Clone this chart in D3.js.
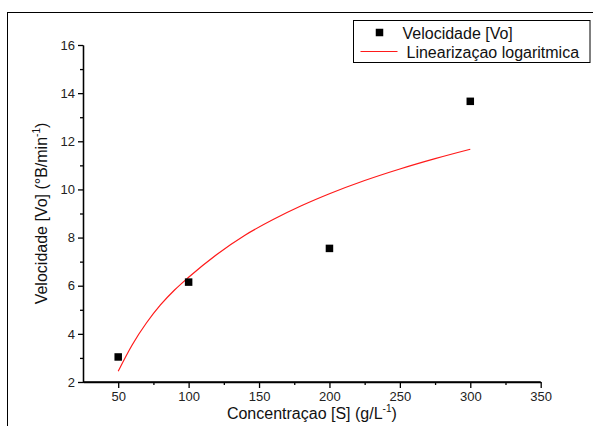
<!DOCTYPE html>
<html>
<head>
<meta charset="utf-8">
<script src="https://cdn.jsdelivr.net/npm/d3@7"></script>
<style>
  html, body { margin: 0; padding: 0; background: #fff; }
  svg { display: block; font-family: "Liberation Sans", Arial, sans-serif; }
</style>
</head>
<body>
<svg id="chart" width="593" height="426"></svg>
<script>
// Measured initial velocity per substrate concentration
const concentrations = [50, 100, 200, 300];
const velocities = [3.04, 6.15, 7.55, 13.66];

// Logarithmic fit curve, sampled along concentration
const fitConc = [50, 60, 70, 80, 90, 100, 120, 140, 160, 180, 200, 225, 250, 275, 300];
const fitVel  = [2.45, 3.55, 4.45, 5.2, 5.82, 6.35, 7.3, 8.1, 8.75, 9.32, 9.82, 10.37, 10.85, 11.28, 11.67];

// Axis ticks
const xMajorTicks = [50, 100, 150, 200, 250, 300, 350];
const xMinorTicks = [75, 125, 175, 225, 275, 325];
const yMajorTicks = [2, 4, 6, 8, 10, 12, 14, 16];
const yMinorTicks = [3, 5, 7, 9, 11, 13, 15];

const legendLabels = ["Velocidade [Vo]", "Linearizaçao logaritmica"];

const svg = d3.select("#chart");

// outer frame
svg.append("rect")
  .attr("x", 7.5).attr("y", 12.5)
  .attr("width", 600).attr("height", 430)
  .attr("fill", "none").attr("stroke", "#000").attr("stroke-width", 1);

const x = d3.scaleLinear().domain([25, 350]).range([83, 540.7]);
const y = d3.scaleLinear().domain([2, 16]).range([382, 45]);

const axisStyle = g => {
  g.selectAll("path, line").attr("stroke", "#000").attr("stroke-width", 1.3);
  g.selectAll("text").attr("fill", "#222").attr("font-size", 13)
    .attr("font-family", "'Liberation Sans', Arial, sans-serif");
};

// x axis
svg.append("g")
  .attr("transform", `translate(0,${y(2)})`)
  .call(d3.axisBottom(x).tickValues(xMinorTicks).tickSize(3).tickFormat("").tickSizeOuter(0))
  .call(axisStyle);
svg.append("g")
  .attr("transform", `translate(0,${y(2)})`)
  .call(d3.axisBottom(x).tickValues(xMajorTicks).tickSize(6).tickPadding(4).tickSizeOuter(0))
  .call(axisStyle)
  .call(g => g.select(".domain").attr("d", `M${x(25)},0H${x(350)}`));

// y axis
svg.append("g")
  .attr("transform", `translate(${x(25)},0)`)
  .call(d3.axisLeft(y).tickValues(yMinorTicks).tickSize(3).tickFormat("").tickSizeOuter(0))
  .call(axisStyle);
svg.append("g")
  .attr("transform", `translate(${x(25)},0)`)
  .call(d3.axisLeft(y).tickValues(yMajorTicks).tickSize(5).tickPadding(3).tickSizeOuter(0))
  .call(axisStyle);

// axis titles
const xTitle = svg.append("text")
  .attr("x", (x(25) + x(350)) / 2).attr("y", 419)
  .attr("text-anchor", "middle").attr("font-size", 16).attr("fill", "#111");
xTitle.append("tspan").text("Concentraçao [S] (g/L");
xTitle.append("tspan").attr("font-size", 10).attr("dy", -7).text("-1");
xTitle.append("tspan").attr("dy", 7).text(")");

const yTitle = svg.append("text")
  .attr("transform", `translate(47,${(y(2) + y(16)) / 2}) rotate(-90)`)
  .attr("text-anchor", "middle").attr("font-size", 16).attr("fill", "#111");
yTitle.append("tspan").text("Velocidade [Vo] (°B/min");
yTitle.append("tspan").attr("font-size", 10).attr("dy", -7).text("-1");
yTitle.append("tspan").attr("dy", 7).text(")");

// fit curve
const line = d3.line()
  .x((d, i) => x(fitConc[i]))
  .y(d => y(d))
  .curve(d3.curveMonotoneX);
svg.append("path")
  .datum(fitVel)
  .attr("d", line)
  .attr("fill", "none").attr("stroke", "#ff1a1a").attr("stroke-width", 1.2);

// data points
const sq = 7.5;
svg.append("g").selectAll("rect")
  .data(velocities)
  .join("rect")
  .attr("x", (d, i) => x(concentrations[i]) - sq / 2)
  .attr("y", d => y(d) - sq / 2)
  .attr("width", sq).attr("height", sq)
  .attr("fill", "#000");

// legend
const lg = svg.append("g");
lg.append("rect")
  .attr("x", 353.5).attr("y", 20.5).attr("width", 236.5).attr("height", 42)
  .attr("fill", "#fff").attr("stroke", "#000").attr("stroke-width", 1);
lg.append("rect")
  .attr("x", 379.5 - sq / 2).attr("y", 32.5 - sq / 2).attr("width", sq).attr("height", sq)
  .attr("fill", "#000");
lg.append("line")
  .attr("x1", 360.5).attr("x2", 397.5).attr("y1", 51.5).attr("y2", 51.5)
  .attr("stroke", "#ff1a1a").attr("stroke-width", 1.2);
lg.append("text")
  .attr("x", 402.5).attr("y", 38.5).attr("font-size", 16).attr("fill", "#111")
  .text(legendLabels[0]);
lg.append("text")
  .attr("x", 406.5).attr("y", 57.5).attr("font-size", 16).attr("fill", "#111")
  .text(legendLabels[1]);
</script>
</body>
</html>
